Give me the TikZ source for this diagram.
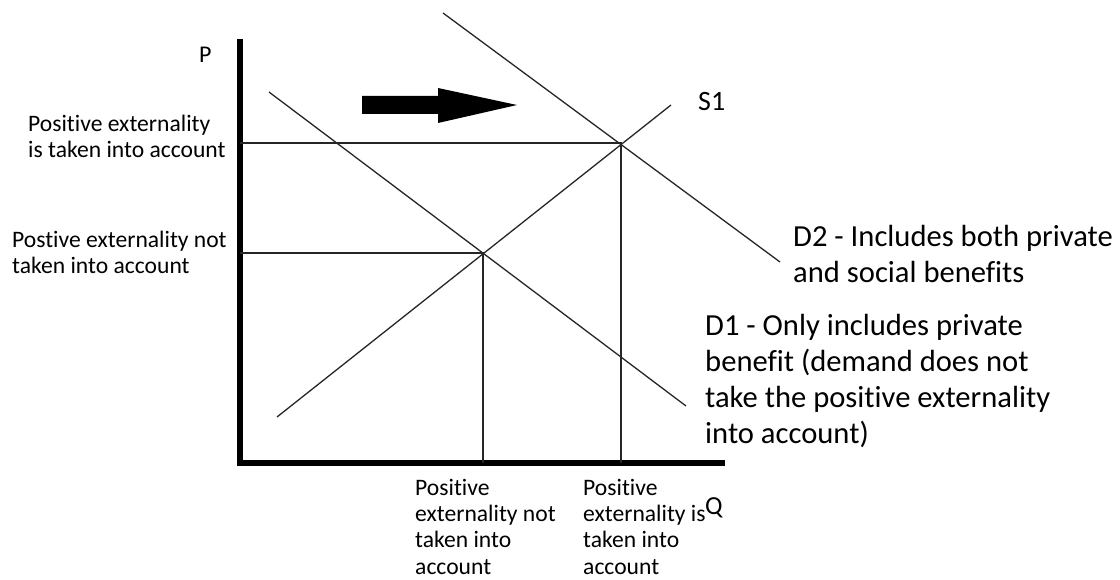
\documentclass[tikz,border=0pt]{standalone}
\usepackage{fontspec}
\setmainfont{Carlito}[Ligatures=NoCommon]
\begin{document}
\begin{tikzpicture}[x=1pt, y=-1pt,
    curve/.style={line width=1.3pt, color=black!85},
    guide/.style={line width=1.3pt, color=black!85},
    axis/.style={line width=5.5pt},
    smalllab/.style={align=left, anchor=base west, inner sep=0pt, font=\fontsize{23.6}{26.3}\selectfont},
    biglab/.style={align=left, anchor=base west, inner sep=0pt, font=\fontsize{30.6}{36}\selectfont}]
    \useasboundingbox (0,0) rectangle (1120,580);

    % --- axes ---
    \coordinate (O) at (240,463);
    \coordinate (Ptop) at (240,39);
    \coordinate (Qend) at (725,463);
    \draw[axis] (Ptop) -- (O) -- (Qend);
    \node[inner sep=0pt, anchor=base west, font=\fontsize{24}{24}\selectfont] (P) at (199,63) {P};
    \node[inner sep=0pt, anchor=base west, font=\fontsize{26}{26}\selectfont] (Q) at (705,514) {Q};

    % --- curves ---
    \coordinate (S1a) at (277,417);
    \coordinate (S1b) at (671,105);
    \coordinate (D1a) at (269,92);
    \coordinate (D1b) at (686,406);
    \coordinate (D2a) at (443,13);
    \coordinate (D2b) at (780,262);
    \draw[curve] (S1a) -- (S1b);
    \draw[curve] (D1a) -- (D1b);
    \draw[curve] (D2a) -- (D2b);
    \node[inner sep=0pt, anchor=base west, font=\fontsize{28}{28}\selectfont] (S1) at (698,111) {S1};

    % --- equilibria ---
    \coordinate (E1) at (483,253);
    \coordinate (E2) at (621,143);
    \draw[guide] (E1 -| O) -- (E1) -- (E1 |- O);
    \draw[guide] (E2 -| O) -- (E2) -- (E2 |- O);

    % shift of demand
    \fill (362,96) -- (438,96) -- (438,88) -- (517,105) -- (438,123) -- (438,114) -- (362,114) -- cycle;

    % --- labels (anchored at the baseline of the last line) ---
    \node[smalllab] (Phigh) at (28,158) {Positive externality\\is taken into account};
    \node[smalllab] (Plow) at (12,274) {Postive externality not\\taken into account};
    \node[smalllab] (Qlow) at (415,574) {Positive\\externality not\\taken into\\account};
    \node[smalllab] (Qhigh) at (583,574) {Positive\\externality is\\taken into\\account};
    \node[biglab] (D2) at (793,283) {D2 - Includes both private\\and social benefits};
    \node[biglab] (D1) at (705,443) {D1 - Only includes private\\benefit (demand does not\\take the positive externality\\into account)};
\end{tikzpicture}
\end{document}
